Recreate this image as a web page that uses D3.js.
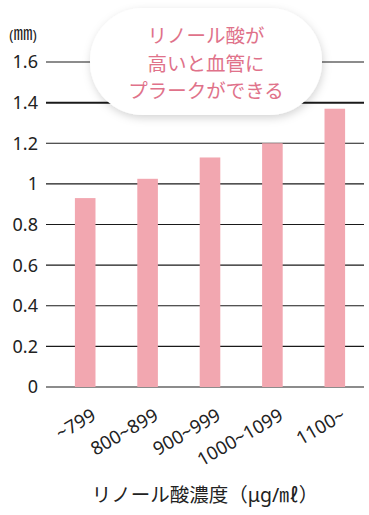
<!DOCTYPE html>
<html><head><meta charset="utf-8">
<script src="https://cdn.jsdelivr.net/npm/d3@7"></script>
<style>body{margin:0;background:#fff}svg{display:block}</style>
</head><body>
<script>
const categories = ["~799","800~899","900~999","1000~1099","1100~"];
const values = [0.93, 1.025, 1.13, 1.20, 1.37];
const yTicks = [0,0.2,0.4,0.6,0.8,1,1.2,1.4,1.6];
const yTickLabels = ["0","0.2","0.4","0.6","0.8","1","1.2","1.4","1.6"];
const calloutLines = ["リノール酸が","高いと血管に","プラークができる"];
const unitLabel = "㎜";
const xTitle = "リノール酸濃度（μg/㎖）";

const W=369,H=515;
const svg=d3.select("body").append("svg").attr("width",W).attr("height",H);
const font="'Noto Sans','Noto Sans CJK JP',sans-serif";
const y=d3.scaleLinear().domain([0,1.6]).range([387,62]);
const x=d3.scaleBand().domain(categories).range([54,366]).paddingInner(0.67).paddingOuter(0.335);

const defs=svg.append("defs");
const f=defs.append("filter").attr("id","sh").attr("x","-20%").attr("y","-30%").attr("width","140%").attr("height","170%");
f.append("feDropShadow").attr("dx",1).attr("dy",3).attr("stdDeviation",4.5).attr("flood-color","#000").attr("flood-opacity",0.17);

// gridlines
svg.append("g").selectAll("line").data(yTicks).join("line")
  .attr("x1",46).attr("x2",364).attr("y1",d=>y(d)).attr("y2",d=>y(d))
  .attr("stroke","#1a1a1a").attr("stroke-width",d=>d===1.4?2:1.2);

// y labels
svg.append("g").selectAll("text").data(yTicks).join("text")
  .attr("x",38).attr("y",d=>y(d)).attr("dy","0.36em").attr("text-anchor","end")
  .attr("font-family",font).attr("font-size",18).attr("fill","#222")
  .text((d,i)=>yTickLabels[i]);

const u=svg.append("text").attr("x",23).attr("y",40).attr("text-anchor","middle")
  .attr("font-family",font).attr("fill","#222");
u.append("tspan").attr("font-size",14).text("(");
u.append("tspan").attr("font-size",19).attr("font-family","'Noto Sans CJK JP'").text(unitLabel);
u.append("tspan").attr("font-size",14).text(")");

// bars
svg.append("g").selectAll("rect").data(values).join("rect")
  .attr("x",(d,i)=>x(categories[i])).attr("width",x.bandwidth())
  .attr("y",d=>y(d)).attr("height",d=>y(0)-y(d)).attr("fill","#F2A7B0");

// x labels
svg.append("g").selectAll("text").data(categories).join("text")
  .attr("transform",d=>`translate(${x(d)+x.bandwidth()/2+12},${419}) rotate(-30)`)
  .attr("text-anchor","end").attr("font-family",font).attr("font-size",18.5).attr("fill","#222")
  .text(d=>d);

svg.append("text").attr("x",205).attr("y",495).attr("dy","0.36em").attr("text-anchor","middle")
  .attr("font-family",font).attr("font-size",19.5).attr("fill","#222").text(xTitle);

// callout
svg.append("rect").attr("x",90).attr("y",8).attr("width",232).attr("height",107).attr("rx",53).attr("ry",53)
  .attr("fill","#fff").attr("filter","url(#sh)");
svg.append("g").selectAll("text").data(calloutLines).join("text")
  .attr("x",206).attr("y",(d,i)=>36+i*27.5).attr("dy","0.36em").attr("text-anchor","middle")
  .attr("font-family",font).attr("font-size",19.5).attr("fill","#E0728A").text(d=>d);
</script>
</body></html>
